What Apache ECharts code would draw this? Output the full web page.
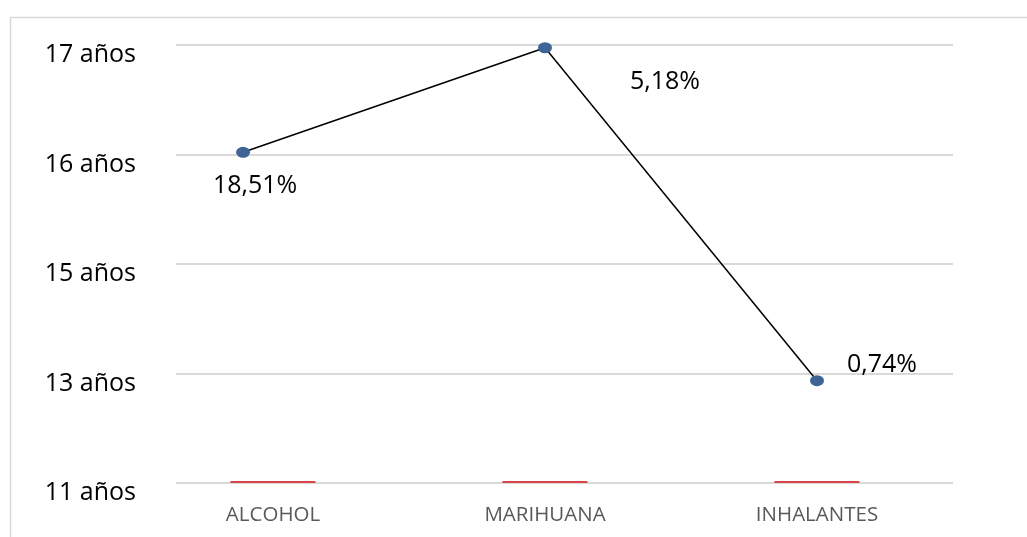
<!DOCTYPE html>
<html>
<head>
<meta charset="utf-8">
<script src="https://cdn.jsdelivr.net/npm/echarts@6/dist/echarts.min.js"></script>
<style>
html,body{margin:0;padding:0;background:#fff;}
#c{width:1027px;height:537px;}
</style>
</head>
<body>
<div id="c"></div>
<script>
const categories = ['ALCOHOL', 'MARIHUANA', 'INHALANTES'];
const yTicks = ['11 años', '13 años', '15 años', '16 años', '17 años'];
// estimated positions of the markers (x on a 0..3 category scale, y on a 0..4 tick-index scale)
const pointX = [0.39, 1.5, 2.5];
const pointY = [3.02, 3.975, 0.934];
const pctLabels = ['18,51%', '5,18%', '0,74%'];
const baseBars = [0, 0, 0];

const labelOffsets = [[12, 34], [120, 34], [65, -16]];
const FONT = 'Open Sans';

const chart = echarts.init(document.getElementById('c'));
chart.setOption({
  backgroundColor: '#fff',
  animation: false,
  graphic: [{
    type: 'rect', left: 8, top: 15, silent: true,
    shape: { width: 1100, height: 600 },
    style: { fill: 'none', stroke: '#d9d9d9', lineWidth: 1.5 }
  }],
  grid: [
    { left: 137, right: 74, top: 45, bottom: 54 },
    { left: 176, right: 74, top: 45, bottom: 54 },
    { left: 138, right: 74, top: 55, bottom: 44 }
  ],
  xAxis: [
    {
      type: 'category', gridIndex: 0, data: categories,
      axisLine: { show: false }, axisTick: { show: false },
      axisLabel: { color: '#595959', fontFamily: FONT, fontSize: 20.5, margin: 22 },
      splitLine: { show: false }
    },
    { type: 'value', gridIndex: 0, min: 0, max: 3, position: 'top', show: false },
    { type: 'value', gridIndex: 1, min: 0, max: 1, show: false },
    { type: 'value', gridIndex: 2, min: 0, max: 1, show: false }
  ],
  yAxis: [
    {
      type: 'value', gridIndex: 0, min: 0, max: 4, interval: 1, show: false
    },
    {
      type: 'value', gridIndex: 1, min: 0, max: 4, interval: 1,
      axisLine: { show: false }, axisTick: { show: false },
      axisLabel: { show: false },
      splitLine: { show: true, lineStyle: { color: '#d9d9d9', width: 2 } }
    },
    {
      type: 'value', gridIndex: 2, min: 0, max: 4, interval: 1,
      axisLine: { show: false }, axisTick: { show: false },
      splitLine: { show: false },
      axisLabel: {
        color: '#000', fontFamily: FONT, fontSize: 25, margin: 2,
        formatter: v => yTicks[v]
      }
    }
  ],
  series: [
    {
      type: 'bar', xAxisIndex: 0, yAxisIndex: 0,
      data: baseBars, barWidth: 85, barMinHeight: 2,
      itemStyle: { color: '#d9474a' }, z: 3
    },
    {
      type: 'line', xAxisIndex: 1, yAxisIndex: 0,
      data: pointX.map((x, i) => ({
        value: [x, pointY[i]],
        label: { offset: labelOffsets[i] }
      })),
      symbol: 'circle', symbolSize: [14, 11],
      itemStyle: { color: '#3d6494' },
      lineStyle: { color: '#000', width: 1.5 },
      label: {
        show: true, position: 'inside', align: 'center', verticalAlign: 'middle',
        color: '#000', fontFamily: FONT, fontSize: 25,
        formatter: p => pctLabels[p.dataIndex]
      },
      z: 4
    }
  ]
});
</script>
</body>
</html>
